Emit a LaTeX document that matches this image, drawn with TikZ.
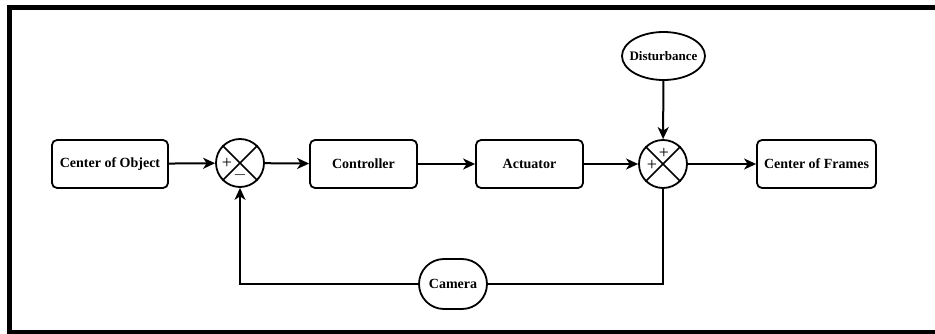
\documentclass[tikz,border=0pt]{standalone}
\usepackage{fontspec}
\setmainfont{Liberation Serif}
\usetikzlibrary{arrows.meta,shapes.geometric,shapes.misc}
\tikzset{
  blk/.style={draw, line width=1.8pt, rounded corners=5pt, minimum height=48pt, inner sep=1pt, font=\bfseries\fontsize{14}{16}\selectfont},
  sumnode/.style={draw, circle, line width=1.8pt, minimum size=48pt, inner sep=0pt},
  ell/.style={draw, ellipse, line width=1.8pt, minimum width=83pt, minimum height=48pt, inner sep=0pt, font=\bfseries\fontsize{13}{15}\selectfont},
  stad/.style={draw, rounded rectangle, line width=1.8pt, minimum width=72pt, minimum height=50pt, inner sep=2pt, font=\bfseries\fontsize{14}{16}\selectfont},
  conn/.style={line width=2pt, -{Stealth[length=12pt,width=11pt,inset=3.5pt]}},
  fb/.style={line width=1.7pt},
  sgn/.style={font=\fontsize{18}{18}\selectfont, inner sep=0pt},
}
\begin{document}
\begin{tikzpicture}[x=1pt,y=-1pt]
\useasboundingbox (0,0) rectangle (935,334);
\draw[line width=4.5pt] (936,7.5) -- (9.5,7.5) -- (9.5,332.5) -- (936,332.5);
\node[blk, minimum width=116pt] (obj) at (110,164) {Center of Object};
\node[sumnode] (s1) at (240,163) {};
\draw[line width=1.6pt] (s1.north west) -- (s1.south east) (s1.north east) -- (s1.south west);
\node[sgn] at (227,163) {+};
\node[sgn] at (240,175) {$-$};
\node[blk, minimum width=107pt] (ctl) at (363.5,164) {Controller};
\node[blk, minimum width=107pt] (act) at (529.5,164) {Actuator};
\node[sumnode] (s2) at (663,164) {};
\draw[line width=1.6pt] (s2.north west) -- (s2.south east) (s2.north east) -- (s2.south west);
\node[sgn] at (664,153) {+};
\node[sgn] at (652,165) {+};
\node[blk, minimum width=119pt] (frm) at (816.5,164) {Center of Frames};
\node[ell] (dist) at (663.5,56) {\makebox[40pt]{Disturbance}};
\node[stad] (cam) at (453,284) {Camera};
\draw[conn] (obj) -- (s1);
\draw[conn] (s1) -- (ctl);
\draw[conn] (ctl) -- (act);
\draw[conn] (act) -- (s2);
\draw[conn] (s2) -- (frm);
\draw[conn] (dist) -- (s2);
\draw[fb] (s2.south) |- (cam.east);
\draw[fb, -{Stealth[length=12pt,width=11pt,inset=3.5pt]}] (cam.west) -| (s1.south);
\end{tikzpicture}
\end{document}
